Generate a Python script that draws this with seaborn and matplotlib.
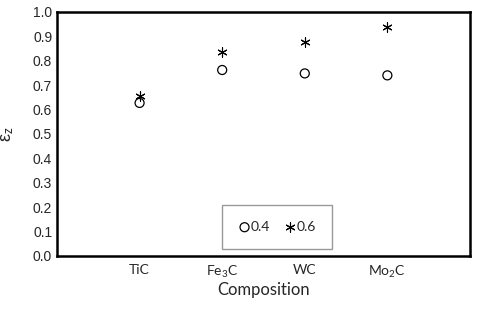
import pandas as pd
import numpy as np
import matplotlib
matplotlib.use('Agg')
import matplotlib.pyplot as plt
import seaborn as sns

# --- Data ---
compositions = ['TiC', 'Fe$_3$C', 'WC', 'Mo$_2$C']
eps_04 = [0.627, 0.762, 0.748, 0.740]
eps_06 = [0.655, 0.835, 0.875, 0.937]
y_ticks = [0.0, 0.1, 0.2, 0.3, 0.4, 0.5, 0.6, 0.7, 0.8, 0.9, 1.0]

df = pd.DataFrame({
    'pos': np.arange(1, len(compositions) + 1),
    '0.4': eps_04,
    '0.6': eps_06,
})

sns.set_style('white')
plt.rcParams['font.family'] = ['Liberation Sans', 'DejaVu Sans']
plt.rcParams['mathtext.fontset'] = 'custom'
plt.rcParams['mathtext.rm'] = 'Lato'
plt.rcParams['mathtext.it'] = 'Lato:italic'

fig = plt.figure(figsize=(4.83, 3.14), dpi=100)
ax = fig.add_axes([0.118, 0.185, 0.855, 0.777])

sns.scatterplot(x='pos', y='0.4', data=df, ax=ax, marker='o', s=42,
                facecolor='none', edgecolor='black', linewidth=0.9, label='0.4')
sns.scatterplot(x='pos', y='0.6', data=df, ax=ax, marker=(6, 2, 0), s=45,
                color='black', linewidth=0.8, label='0.6')

ax.set_xlim(0, 5)
ax.set_ylim(0, 1.0)
ax.set_yticks(y_ticks)
ax.set_yticklabels([f'{v:.1f}' for v in y_ticks], fontsize=10)
ax.set_xticks(df['pos'])
ax.set_xticklabels(compositions, fontsize=10, family=['Lato', 'DejaVu Sans'])
ax.tick_params(axis='both', direction='in', length=3, width=1.5, color='black')
ax.tick_params(axis='x', pad=6)

for sp in ax.spines.values():
    sp.set_visible(True)
    sp.set_color('black')
    sp.set_linewidth(1.8)

ax.set_xlabel('Composition', fontsize=12, family=['Lato', 'DejaVu Sans'], labelpad=1)
ax.set_ylabel(r'ε$_{\mathrm{z}}$', fontsize=13, labelpad=12)

leg = ax.legend(loc='lower center', bbox_to_anchor=(0.533, 0.029), ncol=2,
                frameon=True, fancybox=False, edgecolor='#808080',
                handletextpad=0.0, columnspacing=1.0, borderpad=1.15,
                borderaxespad=0.0, handlelength=0.9,
                prop={'family': ['Lato', 'DejaVu Sans'], 'size': 10})
leg.get_frame().set_linewidth(1.0)

fig.savefig('out.png', dpi=100)
